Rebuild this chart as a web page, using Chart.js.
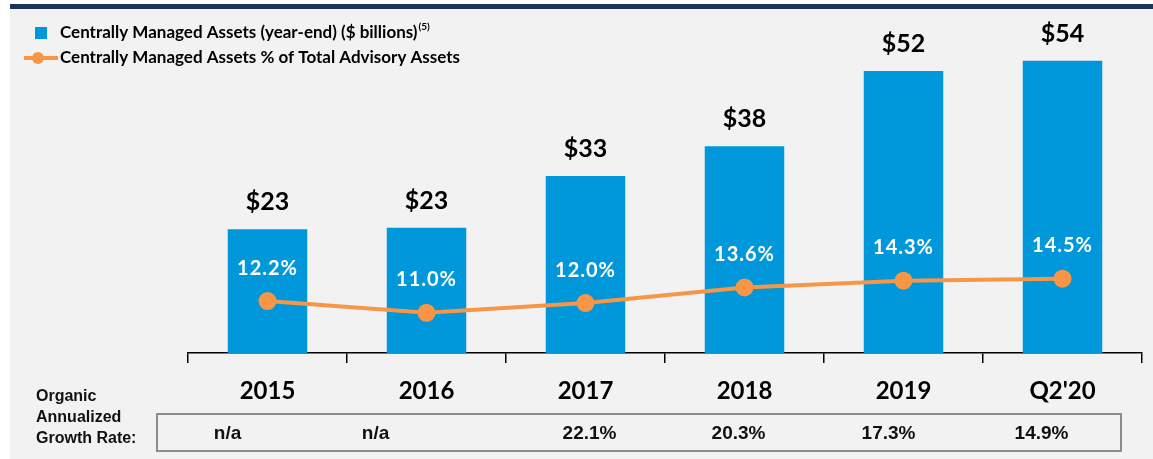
<!DOCTYPE html>
<html>
<head>
<meta charset="utf-8">
<script src="https://cdn.jsdelivr.net/npm/chart.js@4.4.0/dist/chart.umd.min.js"></script>
<style>
  html, body { margin: 0; padding: 0; background: #ffffff; }
  #wrap { position: relative; width: 1153px; height: 459px; }
</style>
</head>
<body>
<div id="wrap"><canvas id="assetsChart" width="1153" height="459"></canvas></div>
<script>
// Chart data
const categories = ['2015', '2016', '2017', '2018', '2019', "Q2'20"];
const managedAssets = [22.9, 23.2, 32.8, 38.3, 52.2, 54.1];   // $ billions
const assetLabels = ['$23', '$23', '$33', '$38', '$52', '$54'];
const pctOfAdvisory = [12.2, 11.0, 12.0, 13.6, 14.3, 14.5];    // %
const growthRates = ['n/a', 'n/a', '22.1%', '20.3%', '17.3%', '14.9%'];
const growthLabelLines = ['Organic', 'Annualized', 'Growth Rate:'];

const BLUE = '#0098da';
const ORANGE = '#f79646';
const NAVY = '#1b365d';
const LABEL_FONT = 'Lato, "Noto Sans", sans-serif';
const TABLE_FONT = '"Liberation Sans", Arial, sans-serif';

// background panel + top rule
const backgroundPlugin = {
  id: 'panel',
  beforeDraw(chart) {
    const ctx = chart.ctx;
    ctx.save();
    ctx.fillStyle = '#ffffff';
    ctx.fillRect(0, 0, chart.width, chart.height);
    ctx.fillStyle = '#f2f2f2';
    ctx.fillRect(10, 9, chart.width - 10, chart.height - 9);
    ctx.fillStyle = NAVY;
    ctx.fillRect(10, 4, chart.width - 10, 5);
    ctx.restore();
  }
};

// legend, value labels, growth table
const overlayPlugin = {
  id: 'overlay',
  afterDatasetsDraw(chart) {
    const ctx = chart.ctx;
    const xScale = chart.scales.x;
    ctx.save();

    // bar value labels
    const barMeta = chart.getDatasetMeta(1);
    ctx.fillStyle = '#000000';
    ctx.font = 'bold 25px ' + LABEL_FONT;
    ctx.textAlign = 'center';
    ctx.textBaseline = 'middle';
    barMeta.data.forEach((bar, i) => {
      ctx.fillText(assetLabels[i], bar.x, bar.y - 27);
    });

    // percent labels above line points
    const lineMeta = chart.getDatasetMeta(0);
    ctx.fillStyle = '#ffffff';
    ctx.font = 'bold 20px ' + LABEL_FONT;
    ctx.letterSpacing = '1px';
    lineMeta.data.forEach((pt, i) => {
      ctx.fillText(pctOfAdvisory[i].toFixed(1) + '%', pt.x, pt.y - 33);
    });
    ctx.letterSpacing = '0px';

    // legend
    ctx.textAlign = 'left';
    ctx.fillStyle = BLUE;
    ctx.fillRect(35, 27, 12, 12);
    ctx.strokeStyle = ORANGE;
    ctx.lineWidth = 4;
    ctx.beginPath();
    ctx.moveTo(24, 58);
    ctx.lineTo(58, 58);
    ctx.stroke();
    ctx.fillStyle = ORANGE;
    ctx.beginPath();
    ctx.arc(38, 58, 6, 0, Math.PI * 2);
    ctx.fill();

    ctx.fillStyle = '#000000';
    ctx.font = 'bold 17px ' + LABEL_FONT;
    const legendText1 = 'Centrally Managed Assets (year-end) ($ billions)';
    ctx.fillText(legendText1, 60, 33);
    const w1 = ctx.measureText(legendText1).width;
    ctx.font = 'bold 10px ' + LABEL_FONT;
    ctx.fillText('(5)', 60 + w1 + 1, 27);
    ctx.font = 'bold 17px ' + LABEL_FONT;
    ctx.fillText('Centrally Managed Assets % of Total Advisory Assets', 60, 58);

    // growth rate table
    ctx.font = 'bold 16px ' + TABLE_FONT;
    ctx.fillStyle = '#111111';
    growthLabelLines.forEach((t, i) => {
      ctx.fillText(t, 36, 397 + i * 21);
    });

    ctx.strokeStyle = '#8c8c8c';
    ctx.lineWidth = 2;
    ctx.strokeRect(157, 414, 964, 37);

    const valueShift = [-40, -51, 4, -6, -15, -21];
    ctx.textAlign = 'center';
    ctx.font = 'bold 19px ' + TABLE_FONT;
    growthRates.forEach((t, i) => {
      ctx.fillText(t, xScale.getPixelForValue(i) + valueShift[i], 434);
    });

    ctx.restore();
  }
};

const chart = new Chart(document.getElementById('assetsChart').getContext('2d'), {
  data: {
    labels: categories,
    datasets: [
      {
        type: 'line',
        label: 'Centrally Managed Assets % of Total Advisory Assets',
        data: pctOfAdvisory,
        yAxisID: 'y1',
        borderColor: ORANGE,
        backgroundColor: ORANGE,
        borderWidth: 4,
        pointRadius: 7,
        pointHoverRadius: 7,
        tension: 0,
        order: 0
      },
      {
        type: 'bar',
        label: 'Centrally Managed Assets (year-end) ($ billions)',
        data: managedAssets,
        yAxisID: 'y',
        backgroundColor: BLUE,
        categoryPercentage: 0.5,
        barPercentage: 1.0,
        order: 1
      }
    ]
  },
  options: {
    responsive: false,
    animation: false,
    layout: { padding: { left: 188, right: 4, top: 29, bottom: 0 } },
    plugins: {
      legend: { display: false },
      tooltip: { enabled: false }
    },
    scales: {
      x: {
        offset: true,
        grid: {
          offset: true,
          drawOnChartArea: false,
          drawTicks: true,
          tickLength: 10,
          color: '#000000',
          lineWidth: 1.5
        },
        border: { display: true, color: '#000000', width: 1.5 },
        ticks: {
          color: '#000000',
          padding: 14,
          font: { family: LABEL_FONT, size: 24, weight: 'bold' }
        },
        afterFit(scale) { scale.height = 106; }
      },
      y: {
        display: false,
        min: 0,
        max: 60
      },
      y1: {
        display: false,
        min: 6.88,
        max: 40.1
      }
    }
  },
  plugins: [backgroundPlugin, overlayPlugin]
});
</script>
</body>
</html>
